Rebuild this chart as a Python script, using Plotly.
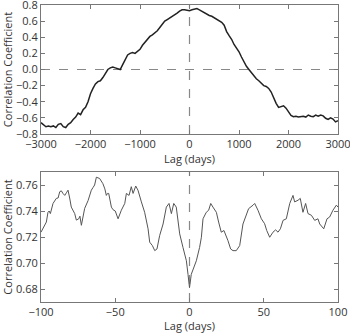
import plotly.graph_objects as go
from plotly.subplots import make_subplots

# Top panel: correlation vs lag (days), long range
lag_long = list(range(-3000, 3001, 50))
corr_long = [
    -0.66, -0.68, -0.71, -0.70, -0.71, -0.70, -0.72, -0.68, -0.67, -0.71,
    -0.72, -0.68, -0.66, -0.62, -0.59, -0.54, -0.56, -0.50, -0.47, -0.40,
    -0.30, -0.235, -0.18, -0.15, -0.14, -0.10, -0.05, 0.00, 0.02, 0.03,
    0.02, 0.01, 0.00, 0.06, 0.12, 0.18, 0.20, 0.21, 0.20, 0.22,
    0.25, 0.30, 0.34, 0.37, 0.41, 0.43, 0.45, 0.48, 0.52, 0.56,
    0.60, 0.62, 0.64, 0.655, 0.67, 0.70, 0.725, 0.74, 0.74, 0.735,
    0.73, 0.74, 0.745, 0.755, 0.74, 0.72, 0.70, 0.685, 0.67, 0.66,
    0.64, 0.625, 0.60, 0.585, 0.55, 0.47, 0.42, 0.375, 0.31, 0.27,
    0.22, 0.155, 0.09, 0.04, 0.00, -0.04, -0.08, -0.115, -0.14, -0.165,
    -0.20, -0.21, -0.235, -0.28, -0.36, -0.42, -0.47, -0.46, -0.45, -0.48,
    -0.53, -0.57, -0.585, -0.58, -0.59, -0.585, -0.58, -0.59, -0.565, -0.58,
    -0.585, -0.565, -0.58, -0.565, -0.575, -0.605, -0.62, -0.60, -0.615, -0.65,
    -0.635,
]

# Bottom panel: correlation vs lag (days), short range
lag_short = [
    -100, -98.5, -97.5, -96.4, -95.3, -94.5, -93.7, -91.9, -89.7, -88.5,
    -87.4, -86.3, -85.2, -84, -82.9, -81.8, -80.7, -79.6, -77.3, -76.2,
    -74.6, -73.8, -72.8, -70.6, -68.3, -66.1, -65, -63.9, -62.7, -61.5,
    -60.5, -58.3, -57, -56, -55.2, -54.4, -53.5, -52.6, -51.5, -50,
    -48.1, -45.9, -43.6, -42.5, -40.7, -39.2, -38, -36.2, -34.7, -33.5,
    -32.4, -30.2, -27.9, -26.8, -25, -23.4, -21.9, -20.1, -17.8, -15.6,
    -13.8, -12.2, -10.6, -8.9, -6.6, -4.4, -2.1, -1, 0, 1.2,
    2.4, 4.6, 6.8, 8, 9.1, 11.3, 12.9, 14.3, 15.8, 18.1,
    19.6, 21.4, 23.2, 24.8, 25.9, 27.7, 29.3, 31.5, 33.8, 36,
    38.3, 39.8, 42.8, 43.9, 46.1, 48.4, 50.6, 52, 54, 56.2,
    58, 59.6, 61.2, 63, 65.2, 67.5, 69.7, 70.8, 73.1, 74.6,
    76.4, 78.2, 79.8, 82.1, 84.3, 86.5, 87.7, 90.4, 92.6, 94.4,
    96.6, 98.9, 100,
]
corr_short = [
    0.7237, 0.727, 0.730, 0.7315, 0.739, 0.740, 0.738, 0.7458, 0.7497, 0.750,
    0.7548, 0.7555, 0.7535, 0.752, 0.754, 0.756, 0.750, 0.743, 0.738, 0.733,
    0.734, 0.736, 0.729, 0.742, 0.748, 0.756, 0.758, 0.760, 0.766, 0.7655,
    0.765, 0.761, 0.757, 0.752, 0.7535, 0.7535, 0.748, 0.743, 0.741, 0.740,
    0.734, 0.7406, 0.7458, 0.7535, 0.752, 0.7587, 0.7535, 0.7592, 0.756, 0.752,
    0.747, 0.739, 0.7263, 0.716, 0.7134, 0.7095, 0.7108, 0.7211, 0.730, 0.743,
    0.7458, 0.738, 0.7458, 0.743, 0.7224, 0.712, 0.7017, 0.6913, 0.681, 0.6913,
    0.695, 0.7017, 0.712, 0.7198, 0.734, 0.739, 0.7406, 0.7458, 0.743, 0.739,
    0.7315, 0.7237, 0.7250, 0.7211, 0.7172, 0.7108, 0.7095, 0.7095, 0.7134, 0.730,
    0.738, 0.7418, 0.7445, 0.7458, 0.7406, 0.734, 0.7302, 0.725, 0.7198, 0.7237,
    0.7255, 0.7237, 0.7263, 0.7328, 0.734, 0.7458, 0.752, 0.747, 0.7483, 0.7497,
    0.739, 0.7458, 0.738, 0.7367, 0.7328, 0.734, 0.730, 0.7263, 0.734, 0.7354,
    0.7406, 0.7445, 0.743,
]

top_ticks = [-0.8, -0.6, -0.4, -0.2, 0.0, 0.2, 0.4, 0.6, 0.8]
bottom_ticks = [0.68, 0.70, 0.72, 0.74, 0.76]
top_xticks = [-3000, -2000, -1000, 0, 1000, 2000, 3000]
bottom_xticks = [-100, -50, 0, 50, 100]

fig = make_subplots(rows=2, cols=1, vertical_spacing=0.128)
fig.update_layout(
    yaxis=dict(domain=[0.5657, 1.0]),
    yaxis2=dict(domain=[0.0, 0.4377]),
)

# dashed reference lines
fig.add_trace(go.Scatter(x=[-3000, 3000], y=[0, 0], mode="lines",
                         line=dict(color="#888888", width=1.2, dash="dash"),
                         hoverinfo="skip", showlegend=False), row=1, col=1)
fig.add_trace(go.Scatter(x=[0, 0], y=[-0.8, 0.8], mode="lines",
                         line=dict(color="#888888", width=1.2, dash="dash"),
                         hoverinfo="skip", showlegend=False), row=1, col=1)
fig.add_trace(go.Scatter(x=[0, 0], y=[0.67, 0.77], mode="lines",
                         line=dict(color="#888888", width=1.2, dash="dash"),
                         hoverinfo="skip", showlegend=False), row=2, col=1)

fig.add_trace(go.Scatter(x=lag_long, y=corr_long, mode="lines",
                         line=dict(color="#222222", width=1.5),
                         showlegend=False), row=1, col=1)
fig.add_trace(go.Scatter(x=lag_short, y=corr_short, mode="lines",
                         line=dict(color="#555555", width=1),
                         showlegend=False), row=2, col=1)

axis_common = dict(
    showgrid=False, zeroline=False, showline=True, mirror="ticks",
    linecolor="#777777", linewidth=1, ticks="inside", ticklen=4,
    tickcolor="#777777", tickfont=dict(size=11, color="#333333"),
    automargin=False, ticklabeloverflow="allow",
)

fig.update_xaxes(axis_common)
fig.update_yaxes(axis_common)

fig.update_xaxes(range=[-3000, 3000], tickvals=top_xticks,
                 title=dict(text="Lag (days)", font=dict(size=11, color="#333333"), standoff=4),
                 row=1, col=1)
fig.update_xaxes(range=[-100, 100], tickvals=bottom_xticks,
                 title=dict(text="Lag (days)", font=dict(size=11, color="#333333"), standoff=4),
                 row=2, col=1)
fig.update_yaxes(range=[-0.8, 0.8], tickvals=top_ticks, tickformat=".1f",
                 title=dict(text="Correlation Coefficient", font=dict(size=11, color="#333333"), standoff=3),
                 row=1, col=1)
fig.update_yaxes(range=[0.67, 0.77], tickvals=bottom_ticks, tickformat=".2f",
                 title=dict(text="Correlation Coefficient", font=dict(size=11, color="#333333"), standoff=3),
                 row=2, col=1)

fig.update_layout(
    width=350, height=333,
    margin=dict(l=41, r=12, t=5, b=31),
    paper_bgcolor="white", plot_bgcolor="white",
    font=dict(family="Open Sans, Noto Sans, sans-serif", size=11, color="#333333"),
)

fig.write_html("out.html", config={"displayModeBar": False},
               post_script="document.body.style.margin='0';")
